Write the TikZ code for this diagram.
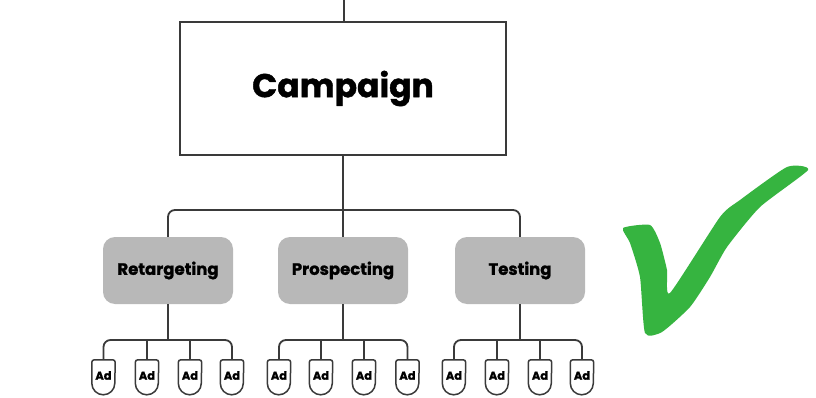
\documentclass[tikz,border=0pt]{standalone}
\usepackage{fontspec}
\setmainfont{Poppins}
\newfontfamily\heavyfont{Poppins}[BoldFeatures={FakeBold=1.2}]
\usetikzlibrary{calc}
\definecolor{lineC}{HTML}{3A3A3A}
\definecolor{boxG}{HTML}{B8B8B8}
\definecolor{checkG}{HTML}{36B440}
\begin{document}
\begin{tikzpicture}[x=1pt,y=1pt,
  conn/.style={draw=lineC,line width=1.8pt,rounded corners=7pt},
  campbox/.style={draw=lineC,line width=1.6pt,fill=white,minimum width=326pt,minimum height=133pt,inner sep=0pt,
    font=\fontsize{33}{33}\heavyfont\bfseries},
  graybox/.style={fill=boxG,rounded corners=12pt,minimum width=130pt,minimum height=67pt,inner sep=0pt,
    font=\fontsize{16.5}{16.5}\heavyfont\bfseries},
  adbox/.style={minimum width=23pt,minimum height=35pt,inner sep=0pt,font=\fontsize{11.5}{11.5}\heavyfont\bfseries,text=black},
  adline/.style={draw=lineC,line width=1.5pt,fill=white}]
\useasboundingbox (0,0) rectangle (816,397);
\fill[white] (0,0) rectangle (816,397);
% campaign
\node[campbox] (camp) at (343,308.5) {\raisebox{-2pt}{Campaign}};
\coordinate (topend) at (344,397);
\draw[conn] (topend) -- (camp.north -| topend);
% category boxes
\node[graybox] (ret) at (168,126.5) {Retargeting};
\node[graybox] (pro) at (343,126.5) {Prospecting};
\node[graybox] (tes) at (520,126.5) {Testing};
\coordinate (cbus) at (343,187);
\draw[conn] (ret.north) |- (cbus) -| (tes.north);
\draw[conn] (camp.south) -- (pro.north);
% ads
\foreach \g/\cx/\a/\b/\c/\d in {ret/168/103.5/147/190/232, pro/343/279/321/364/407.5, tes/520/454/497/540/582}{
  \foreach \i/\x in {1/\a,2/\b,3/\c,4/\d}{
    \path (\x,19.5) node[adbox] (\g-ad\i) {};
    \draw[adline] ([yshift=-2.5pt]\g-ad\i.north west)
      -- ([yshift=-23.5pt]\g-ad\i.north west)
      arc[start angle=180,end angle=360,radius=11.5pt]
      -- ([yshift=-2.5pt]\g-ad\i.north east)
      arc[start angle=0,end angle=90,radius=2.5pt]
      -- ([xshift=2.5pt]\g-ad\i.north west)
      arc[start angle=90,end angle=180,radius=2.5pt] -- cycle;
    \node[adbox] at ([yshift=2pt]\g-ad\i.center) {Ad};
  }
  \coordinate (\g-bus) at (\cx,57);
  \draw[conn] (\g-ad1.north) |- (\g-bus) -| (\g-ad4.north);
  \draw[conn] (\g.south) -- (\g-bus);
  \draw[conn] (\g-ad2.north) -- (\g-ad2.north |- \g-bus);
  \draw[conn] (\g-ad3.north) -- (\g-ad3.north |- \g-bus);
}
% check mark
\fill[checkG] plot[smooth cycle,tension=0.35] coordinates {
  (623,169) (630,154) (640,120) (645,64) (662,65) (690,90) (710,120) (727,150)
  (760,190) (808,227) (787,230) (740,197) (720,180) (670,104) (667,127) (660,154) (650,172)};
\end{tikzpicture}
\end{document}
